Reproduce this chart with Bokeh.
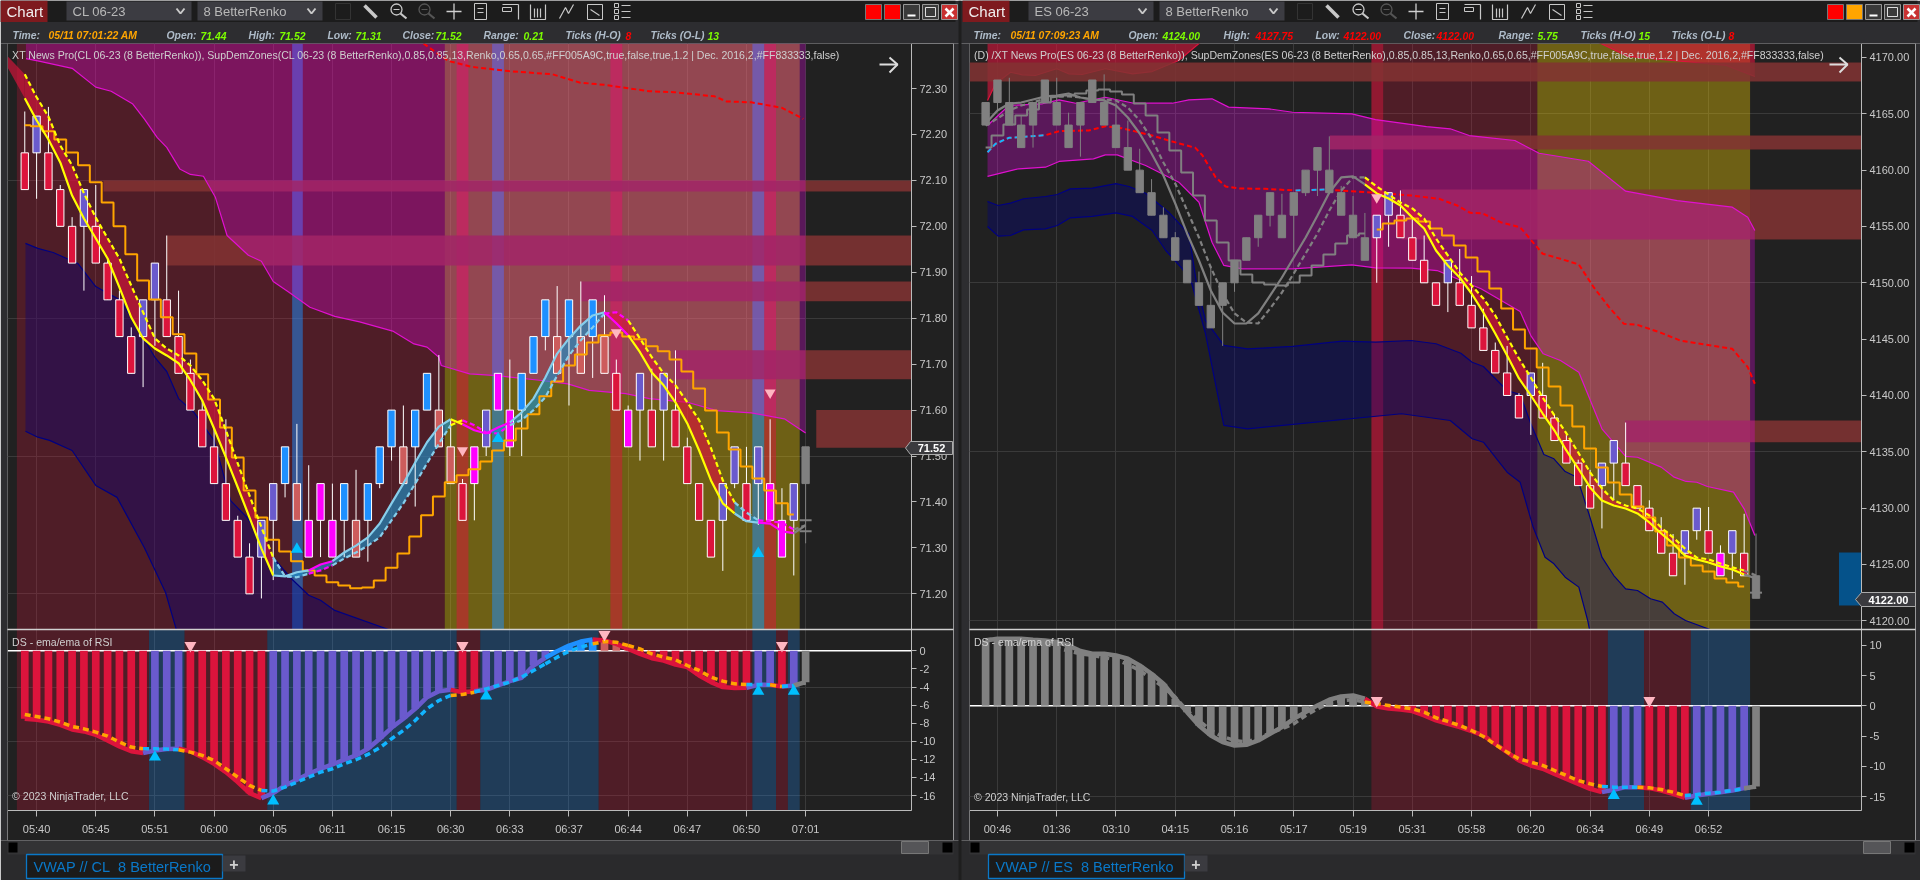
from bokeh.plotting import figure
from bokeh.models import Range1d, LinearAxis, FixedTicker, Grid, PrintfTickFormatter, Label
from bokeh.core.properties import value
from bokeh.embed import file_html
from bokeh.resources import INLINE

FONT = "Liberation Sans"
BG = "#212121"
COL = {"R": "#DC143C", "P": "#6A5ACD", "B": "#1E90FF", "S": "#CD5C5C", "M": "#FF00FF", "G": "#808080"}
DASHCOL = {"R": "#FFA500", "P": "#12B4FF", "B": "#12B4FF", "S": "#FFA500", "M": "#FFA500", "G": "#808080"}
Y, L, M, G, CR, BL = "#FFFF00", "#87CEEB", "#FF00FF", "#808080", "#DC143C", "#1E90C8"

# ---------------- CL 06-23 ----------------
cl_bar_top = [72.16,72.24,72.16,72.08,72.00,72.08,72.00,71.92,71.84,71.76,
              71.84,71.92,71.84,71.76,71.68,71.60,71.52,71.44,71.36,71.28,
              71.36,71.44,71.52,71.44,71.36,71.44,71.36,71.44,71.36,71.44,
              71.52,71.60,71.52,71.60,71.68,71.60,71.52,71.44,71.52,71.60,
              71.68,71.60,71.68,71.76,71.84,71.76,71.84,71.76,71.84,71.76,
              71.68,71.60,71.68,71.60,71.68,71.60,71.52,71.44,71.36,71.44,
              71.52,71.44,71.52,71.44,71.36,71.44,71.52]
cl_brick = 0.08
cl_bar_colors = "RPRRRPRRRR" "PPRRRRRRRR" "PPBSMMMBSB" "BBSBBSSRMP" "MMBBBSBSBS" "RMPRPRRRRP" "PRPMMPG"
cl_high = [72.25,72.24,72.26,72.09,72.02,72.08,72.09,71.93,71.86,71.78,
           71.84,71.92,71.98,71.86,71.71,71.62,71.56,71.58,71.37,71.31,
           71.36,71.44,71.52,71.57,71.48,71.44,71.44,71.44,71.47,71.44,
           71.52,71.60,71.61,71.60,71.68,71.72,71.58,71.45,71.52,71.60,
           71.68,71.71,71.68,71.76,71.84,71.87,71.84,71.88,71.84,71.85,
           71.71,71.61,71.68,71.69,71.68,71.73,71.54,71.44,71.36,71.44,
           71.52,71.52,71.52,71.58,71.43,71.44,71.52]
cl_low_wicks = {1:72.06,5:71.86,10:71.65,11:71.74,20:71.19,21:71.23,22:71.41,25:71.28,27:71.28,29:71.27,
                30:71.43,31:71.49,33:71.39,38:71.36,39:71.50,41:71.50,42:71.50,44:71.73,46:71.61,48:71.67,
                52:71.49,54:71.49,59:71.25,60:71.43,62:71.35,65:71.24,66:71.31}
cl_fast = [72.279,72.231,72.189,72.139,72.067,72.017,71.974,71.930,71.867,71.802,
           71.756,71.734,71.719,71.702,71.665,71.621,71.560,71.497,71.432,71.366,
           71.299,71.240,71.238,71.247,71.251,71.264,71.271,71.290,71.305,71.323,
           71.353,71.397,71.440,71.486,71.530,71.564,71.580,71.569,71.556,71.549,
           71.562,71.573,71.595,71.625,71.671,71.723,71.756,71.784,71.806,71.813,
           71.789,71.763,71.726,71.682,71.654,71.617,71.571,71.512,71.447,71.397,
           71.375,71.358,71.355,71.353,71.336,71.332,71.349]
cl_slow = [72.331,72.281,72.239,72.176,72.133,72.072,72.019,71.974,71.930,71.871,
           71.813,71.756,71.734,71.719,71.697,71.665,71.625,71.556,71.484,71.414,
           71.345,71.279,71.238,71.236,71.244,71.251,71.262,71.277,71.290,71.305,
           71.323,71.360,71.397,71.440,71.484,71.527,71.567,71.578,71.567,71.551,
           71.549,71.567,71.578,71.600,71.628,71.675,71.719,71.752,71.780,71.810,
           71.813,71.795,71.756,71.715,71.680,71.654,71.617,71.578,71.517,71.447,
           71.399,71.377,71.360,71.358,71.355,71.340,71.349]
cl_head_x, cl_head_fast, cl_head_slow = [-1.45, 0], [72.346, 72.279], [72.370, 72.331]
cl_segments = [(0,21,Y,CR),(21,24,L,BL),(24,26,M,BL),(26,36,L,BL),(36,37,Y,CR),(37,39,M,CR),(39,41,M,BL),
               (41,49,L,BL),(49,51,M,CR),(51,60,Y,CR),(60,62,L,BL),(62,65,M,CR),(65,66,G,None)]
cl_stair = [72.220,72.218,72.207,72.189,72.161,72.133,72.096,72.052,72.000,71.939,
            71.882,71.841,71.802,71.765,71.723,71.678,71.623,71.562,71.497,71.425,
            71.366,71.318,71.292,71.271,71.251,71.240,71.225,71.218,71.212,71.214,
            71.229,71.257,71.288,71.325,71.371,71.412,71.443,71.458,71.471,71.488,
            71.512,71.534,71.560,71.591,71.630,71.662,71.697,71.721,71.747,71.763,
            71.769,71.760,71.754,71.739,71.728,71.710,71.684,71.647,71.599,71.551,
            71.514,71.477,71.451,71.425,71.397,71.373]
cl_pink_i = [0.1,1.1,4.0,6.0,7.3,9.1,10.1,11.2,12,13.1,14,15.1,16.1,17.1,18.9,20,21,22.3,24.1,26.2,28.3,
             31.1,32.9,34,35,35.2,37.6,39.9,43.5,45.9,47.7,50.8,52.8,56,58.5,61.4,64.2,66]
cl_pink = [72.365,72.360,72.344,72.303,72.294,72.267,72.234,72.193,72.172,72.125,72.113,72.109,72.064,71.980,
           71.937,71.924,71.880,71.857,71.824,71.804,71.792,71.772,71.744,71.737,71.715,71.697,71.679,71.675,
           71.665,71.657,71.643,71.636,71.625,71.617,71.599,71.594,71.581,71.550]
cl_vwap_i = [33.7,35.8,37.8,40.9,44.6,46.9,49,52.8,54.9,58.3,59.3,61.4,64,65.8]
cl_vwap = [72.398,72.360,72.347,72.338,72.331,72.313,72.308,72.294,72.292,72.283,72.272,72.270,72.258,72.234]
cl_navy_up_i = [0.06,1.1,2.4,4.5,6,8.1,10,11,12,13,14.3,16,17.4,18.8,21,22.5,24,25,26.2,31]
cl_navy_up = [71.963,71.952,71.943,71.919,71.869,71.839,71.758,71.715,71.684,71.625,71.595,71.534,71.403,71.366,
              71.279,71.234,71.197,71.186,71.164,71.12]
cl_navy_lo_i = [0.06,1.1,2.1,4,6,7.8,10.1,11.9,12.8,13.3,31.5]
cl_navy_lo = [71.554,71.541,71.534,71.512,71.436,71.410,71.301,71.203,71.123,71.08,71.08]
cl_red_span, cl_olive_span = (-0.67, 35.5), (35.5, 65.5)
cl_blue_cols, cl_red_cols = [(22.6,23.5),(39.5,40.5),(61.5,62.5)], [(36.5,37.5),(49.5,50.5),(62.5,63.5)]
cl_zone_start = [6.65,12,47,54.9,66.9]
cl_zone_top = [72.10,71.98,71.88,71.73,71.60]
cl_zone_bot = [72.076,71.915,71.837,71.667,71.518]
cl_tri_dn = ([37,50,63],[71.512,71.769,71.638])
cl_tri_up = ([23,40,62],[71.297,71.538,71.288])
cl_ticks = [72.30,72.20,72.10,72.00,71.90,71.80,71.70,71.60,71.50,71.40,71.30,71.20]
cl_grid = [72.10,71.80,71.50,71.20]
cl_time_i = [1,6,11,16,21,26,31,36,41,46,51,56,61,66]
cl_time = ["05:40","05:45","05:51","06:00","06:05","06:11","06:15","06:30","06:33","06:37","06:44","06:47","06:50","07:01"]
cl_hist = [-7.51,-7.62,-7.81,-8.18,-8.69,-8.91,-9.28,-9.91,-10.57,-11.09,
           -11.31,-11.01,-10.86,-10.83,-11.09,-11.75,-12.49,-13.41,-14.51,-15.73,
           -16.28,-15.73,-14.88,-14.25,-13.59,-13.04,-12.56,-12.04,-11.56,-10.83,
           -9.72,-8.51,-7.51,-6.41,-5.12,-4.46,-4.31,-4.57,-4.46,-4.31,
           -3.83,-3.35,-2.98,-1.62,-0.77,-0.04,0.59,1.03,1.25,1.14,
           0.77,0.22,-0.33,-0.81,-1.07,-1.51,-1.80,-2.72,-3.46,-4.01,
           -4.12,-4.08,-3.76,-3.76,-3.94,-3.83,-3.46]
cl_sig = [-7.03,-7.26,-7.51,-7.88,-8.36,-8.62,-8.99,-9.43,-10.09,-10.64,
          -10.83,-10.83,-10.86,-10.94,-11.20,-11.56,-12.12,-13.04,-13.96,-14.88,
          -15.43,-15.50,-15.06,-14.51,-13.96,-13.41,-13.04,-12.49,-12.04,-11.45,
          -10.72,-9.72,-8.80,-7.70,-6.41,-5.49,-4.93,-4.82,-4.57,-4.20,
          -3.83,-3.46,-2.91,-2.17,-1.44,-0.70,-0.04,0.41,0.77,1.03,
          0.96,0.59,0.22,-0.33,-0.70,-0.99,-1.62,-2.17,-2.91,-3.35,
          -3.65,-3.72,-3.72,-3.76,-3.94,-3.83,-3.57]
cl_hist_colors = "R"*11 + "P"*3 + "R"*7 + "P"*16 + "R"*2 + "P"*6 + "B"*4 + "S"*3 + "R"*10 + "P"*2 + "R" + "P" + "G"
cl_ind_red = [(-0.67,10.5),(13.5,20.5),(36.5,38.5),(48.5,61.5),(63.5,64.5)]
cl_ind_blue = [(10.5,13.5),(20.5,36.5),(38.5,48.5),(61.5,63.5),(64.5,65.5)]
cl_ind_dn = ([14,37,49,64],[0.59,0.59,1.8,0.59])
cl_ind_up = ([11,21,39,62,65],[-11.75,-16.6,-5.0,-4.46,-4.46])
cl_ind_ticks = [0,-2,-4,-6,-8,-10,-12,-14,-16]
cl_ind_grid = [-4,-10,-16]

# ---------------- ES 06-23 ----------------
es_bar_top = [4166,4168,4166,4164,4166,4168,4166,4164,4166,4168,
              4166,4164,4162,4160,4158,4156,4154,4152,4150,4148,
              4150,4152,4154,4156,4158,4156,4158,4160,4162,4160,
              4158,4156,4154,4156,4158,4156,4154,4152,4150,4152,
              4150,4148,4146,4144,4142,4140,4142,4140,4138,4136,
              4134,4132,4134,4136,4134,4132,4130,4128,4126,4128,
              4130,4128,4126,4128,4126,4124]
es_brick = 2
es_bar_colors = "G"*33 + "PP" + "RRRR" + "P" + "RRRRRR" + "P" + "RRRRR" + "PP" + "RRRRR" + "PP" + "R" + "M" + "P" + "R" + "G"
es_high = [4166,4168,4168.2,4164.9,4166,4168,4168.2,4165.1,4166,4168,
           4168.5,4166,4164.4,4161.9,4159.2,4156.7,4154.5,4152,4151,4151.5,
           4150,4152,4154,4156,4158,4157.9,4158,4160,4162,4163,
           4158.6,4157.7,4156.2,4156,4158,4158.2,4155.7,4154.2,4150,4152,
           4153,4150.6,4147.7,4144.7,4144.4,4140.2,4142,4142.9,4138.3,4136.5,
           4134.3,4133.4,4134,4136,4137.6,4132,4130.7,4129.2,4127.7,4128,
           4130,4130.1,4126.7,4128,4129.5,4127.75]
es_low_wicks = {1:4165.2,4:4162,8:4161.2,20:4144.4,21:4149.2,23:4153.2,24:4155,26:4152.7,27:4157.7,28:4157.7,
                33:4150,34:4153.2,39:4147.4,46:4136.5,52:4128.2,53:4130.7,59:4123.2,60:4127.2,63:4123.7}
es_fast = [4164.14,4165.29,4165.91,4166.00,4166.27,4166.54,4166.62,4166.80,4166.45,4166.27,
           4166.18,4165.74,4164.67,4163.25,4161.48,4159.52,4157.04,4154.38,4151.98,4149.32,
           4147.37,4146.39,4146.39,4147.28,4148.87,4150.47,4152.25,4154.02,4155.97,4158.02,
           4159.35,4159.44,4158.73,4157.93,4157.48,4156.86,4155.80,4154.82,4152.87,4151.54,
           4150.47,4149.05,4147.37,4145.50,4143.55,4141.51,4140.00,4138.40,4136.89,4135.12,
           4133.52,4131.84,4130.68,4130.24,4129.97,4129.53,4128.73,4127.75,4126.87,4125.80,
           4125.45,4125.18,4124.83,4124.56,4124.12,4123.76]
es_slow = [4163.96,4164.58,4165.29,4165.74,4166.00,4166.36,4166.54,4166.54,4166.45,4166.27,
           4166.27,4166.18,4165.56,4164.41,4162.81,4160.68,4158.81,4156.42,4154.02,4151.36,
           4149.05,4147.28,4146.48,4146.39,4147.72,4149.14,4150.83,4152.60,4154.38,4156.42,
           4158.19,4159.35,4159.35,4158.55,4157.84,4157.13,4156.60,4155.71,4153.93,4152.43,
           4150.92,4149.76,4148.61,4147.10,4145.15,4143.28,4141.60,4139.82,4138.22,4136.63,
           4134.94,4133.17,4131.75,4130.68,4130.24,4129.97,4129.35,4128.28,4127.40,4126.42,
           4125.62,4125.45,4125.09,4124.74,4124.47,4124.03]
es_segments = [(0,32,G,None),(32,64,Y,CR),(64,65,G,None)]
es_stair = [4162.01,4163.07,4164.05,4164.85,4165.38,4166.00,4166.54,4166.62,4166.80,4167.07,
            4167.16,4166.98,4166.71,4165.91,4164.85,4163.34,4161.74,4159.79,4157.75,4155.53,
            4153.58,4151.98,4150.74,4150.03,4149.85,4149.76,4150.03,4150.65,4151.54,4152.51,
            4153.49,4154.20,4154.38,4154.73,4155.26,4155.53,4155.71,4155.44,4154.82,4154.20,
            4153.31,4152.25,4151.00,4149.50,4147.72,4145.86,4144.17,4142.48,4140.80,4139.11,
            4137.25,4135.30,4133.61,4132.28,4131.22,4130.15,4129.17,4127.93,4126.69,4125.62,
            4124.91,4124.38,4123.76,4123.41,4123.05]
es_up_i = [0.16,1.96,4.8,6.2,7.6,10.1,12.5,15.75,17.15,19.1,20.5,23.9,25.9,30.9,32.9,37.2,39.2,40.8,44.65,46.7,50.85,54,58.35,63,64.3,64.9]
es_up = [4163.96,4165.74,4165.89,4166.24,4165.94,4166.47,4165.94,4165.94,4166.24,4166.33,4165.59,4165.44,4165.14,4165,4164.49,
         4163.87,4163.67,4163.07,4162.63,4161.5,4160.79,4158.13,4157.3,4156.71,4155.82,4154.64]
es_pink_i = [0.16,2.8,5.05,6.2,9.1,10.1,11.1,13.5,16.3,18,19.1,20.1,21.65,25.9,30.9,32.9,35.9,38.1,41.8,45.1,46,47.05,48.5,50.05,
             52,54,55,57,58.1,59.1,60,60.9,63.1,64,64.9]
es_pink = [4159.44,4160.12,4160.26,4160.77,4161.0,4161.36,4161.36,4160.41,4158.93,4157.15,4153.6,4151.54,4151.24,4151.24,4151.6,
           4151.33,4151.3,4151.09,4149.47,4147.45,4145.32,4143.7,4143.1,4142.07,4137.04,4134.6,4134.52,4133.64,4132.75,4132.37,
           4132.3,4131.92,4131.42,4129.94,4127.57]
es_top_i = [0.16,0.84,2.1,3.1,4.2,6.0,7,8.15,10.1,12.4,14.05,16.3,18.3,51.4,54.2,62.5,64.9]
es_top = [4166.18,4167.66,4168.69,4168.46,4168.4,4169.0,4168.55,4168.49,4169,4168.55,4168.75,4169.73,4171.5,4171.5,4170.09,4169.29,4168.31]
es_vwap_i = [0.16,0.84,1.96,2.8,5.05,6.2,8.7,10.1,11.5,14.05,15.75,17.7,18.3,19.4,20.25,21.4,23.6,26.15,28.7,32.9,35.9,38.25,39.8,
             40.9,41.9,43.45,45.1,47,48.5,50.05,51.3,52.6,53.85,55,57,58.6,63,64.3,64.9]
es_vwap = [4161.59,4162.34,4162.87,4162.92,4163.1,4163.46,4163.52,4163.9,4163.72,4163.07,4162.54,4161.98,4161.3,4159.37,4158.55,
           4158.37,4158.34,4158.19,4158.28,4157.99,4157.75,4157.46,4156.86,4156.21,4156.18,4155.38,4154.93,4152.58,4152.13,4151.63,
           4149.61,4147.84,4146.36,4146.27,4145.56,4144.88,4144.14,4142.51,4141.04]
es_vwap_blue = [(0.16,5.05),(26.15,28.7)]
es_navy_up_i = [0.16,1.06,2.1,3.2,5.05,6.05,7.15,9,11,12.1,13.5,15.45,17.15,17.8,18.55,20.1,22.1,25.9,30.1,32.9,35.9,38,40.1,41.05,
                42,44,45.1,46,47.1,47.95,48.9,49.9,50.9,52,53,54,55,56.1,57.1,58.1,59.05,61.7]
es_navy_up = [4157.22,4156.86,4157.07,4157.46,4157.66,4157.84,4158.34,4158.4,4158.81,4158.55,4157.95,4156.27,4154.35,4149.94,4146.66,
              4144.44,4144.14,4144.35,4144.82,4144.73,4144.88,4144.59,4143.75,4142.95,4142.57,4140.44,4140.09,4137.49,4134.76,4134.38,
              4133.25,4132.75,4129.5,4125.65,4124.02,4122.84,4122.69,4121.96,4121.66,4120.63,4120.03,4119.0]
es_navy_lo_i = [0.16,1.06,2.1,3.2,5.05,6.05,7.15,9,11,12.4,14.05,15.2,16.6,17.4,18.55,20.1,22.1,35.1,39.2,41.05,42,44,45.1,46.2,47.2,47.95,48.9,50.05,50.8,51.05]
es_navy_lo = [4155,4154.14,4154.2,4154.7,4154.79,4155.09,4155.77,4155.89,4156.21,4155.89,4154.64,4152.87,4151.24,4149.91,4145.5,
              4137.34,4137.04,4138.38,4137.78,4136.16,4135.85,4133.19,4132.3,4128.3,4125.65,4125.06,4123.87,4122.99,4120.03,4118.7]
es_red_span, es_olive_span = (33.55, 46.55), (46.55, 64.5)
es_blue_cols, es_red_cols = [], [(32.55,33.55)]
es_zone_start = [-1.36,29.04,35.1,53.95]
es_zone_top = [4169.55,4163.07,4158.28,4137.78]
es_zone_bot = [4167.87,4161.83,4153.84,4135.85]
es_demand = ([72],[4126.07],[4121.36])
es_tri_dn = ([33],[4157.57])
es_ticks = [4170,4165,4160,4155,4150,4145,4140,4135,4130,4125,4120]
es_grid = [4165,4150,4135,4120]
es_time_i = [1,6,11,16,21,26,31,36,41,46,51,56,61]
es_time = ["00:46","01:36","03:10","04:15","05:16","05:17","05:19","05:31","05:58","06:20","06:34","06:49","06:52"]
es_hist = [10.80,11.07,11.07,11.07,10.91,10.80,10.52,9.97,9.04,8.60,
           8.60,8.32,7.77,6.67,5.29,3.64,1.16,-1.05,-3.25,-4.90,
           -6.01,-6.56,-6.45,-5.73,-4.63,-3.53,-2.15,-1.05,0.06,0.99,
           1.54,1.71,1.16,-0.11,-0.44,-0.61,-0.88,-1.60,-2.42,-2.98,
           -3.53,-4.19,-4.90,-6.28,-7.66,-9.04,-9.86,-10.41,-11.24,-12.07,
           -12.89,-13.72,-14.27,-13.88,-13.44,-13.44,-13.61,-13.99,-14.55,-15.21,
           -14.82,-14.55,-14.27,-13.99,-13.61,-13.33]
es_sig = [10.91,11.07,11.07,10.96,10.80,10.25,9.59,9.04,8.60,8.32,
          7.93,7.60,6.83,5.84,4.46,3.09,1.43,-0.77,-2.42,-4.08,
          -5.07,-5.73,-6.01,-5.34,-4.52,-3.80,-2.98,-1.60,-0.50,0.50,
          0.88,0.99,0.61,0.33,0.06,-0.22,-0.50,-1.05,-1.98,-2.59,
          -3.25,-4.08,-5.07,-6.39,-7.66,-8.76,-9.31,-9.86,-10.69,-11.52,
          -12.34,-12.89,-13.33,-13.44,-13.44,-13.44,-13.55,-13.83,-14.27,-14.82,
          -14.66,-14.44,-14.27,-13.99,-13.72,-13.44]
es_hist_colors = "G"*33 + "R"*20 + "P"*3 + "R"*4 + "P"*5 + "G"
es_ind_red = [(32.55,52.5),(55.55,59.5)]
es_ind_blue = [(52.5,55.55),(59.5,64.5)]
es_ind_dn = ([33,56],[0.88,0.88])
es_ind_up = ([53,60],[-14.82,-15.76])
es_ind_ticks = [10,5,0,-5,-10,-15]
es_ind_grid = [-15]

LEGEND_CL = "XT News Pro(CL 06-23 (8 BetterRenko)), SupDemZones(CL 06-23 (8 BetterRenko),0.85,0.85,13,Renko,0.65,0.65,#FF005A9C,true,false,true,1.2 | Dec. 2016,2,#FF833333,false)"
LEGEND_ES = "(D) /XT News Pro(ES 06-23 (8 BetterRenko)), SupDemZones(ES 06-23 (8 BetterRenko),0.85,0.85,13,Renko,0.65,0.65,#FF005A9C,true,false,true,1.2 | Dec. 2016,2,#FF833333,false)"


def base(left, top, w, h, right, bottom, xr, yr, yticks, ygrid, xticks, fmt):
    p = figure(width=w, height=h, x_range=Range1d(*xr), y_range=Range1d(*yr), x_axis_location=None, y_axis_location=None,
               output_backend="svg", toolbar_location=None, min_border_left=0, min_border_top=0,
               min_border_right=right, min_border_bottom=bottom, background_fill_color=BG, border_fill_color=BG,
               outline_line_color=None,
               styles={"position": "fixed", "left": f"{left}px", "top": f"{top}px"})
    p.grid.visible = False
    ax = LinearAxis(ticker=FixedTicker(ticks=yticks), formatter=PrintfTickFormatter(format=fmt),
                    major_label_text_font=FONT, major_label_text_font_size="11px", major_label_text_color="#C8C8C8",
                    axis_line_color="#BBBBBB", major_tick_line_color="#BBBBBB", major_tick_in=0, major_tick_out=5,
                    minor_tick_line_color=None, major_label_standoff=3)
    p.add_layout(ax, "right")
    p.add_layout(Grid(dimension=1, ticker=FixedTicker(ticks=ygrid), grid_line_color="#3A3A3A"))
    p.add_layout(Grid(dimension=0, ticker=FixedTicker(ticks=xticks), grid_line_color="#3A3A3A"))
    return p


def spans(p, items, color, alpha, lo, hi):
    if items:
        p.quad(left=[a for a, _ in items], right=[b for _, b in items], bottom=lo, top=hi,
               fill_color=color, fill_alpha=alpha, line_color=None)


def band(p, xu, yu, xl, yl, color, alpha):
    p.patch(list(xu) + list(xl)[::-1], list(yu) + list(yl)[::-1], fill_color=color, fill_alpha=alpha, line_color=None)


def text(p, x, y, s, size="10.55px", color="#CFCFCF"):
    p.add_layout(Label(x=x, y=y, text=s, text_font=FONT, text_font_size=size, text_color=color,
                       text_baseline="middle", text_align="left"))


def candles(p, tops, brick, colors, high, low_wicks):
    xs = list(range(len(tops)))
    bots = [t - brick for t in tops]
    lows = [low_wicks.get(i, bots[i]) for i in xs]
    p.segment(xs, high, xs, lows, line_color=["#808080" if c == "G" else "#FFFFFF" for c in colors], line_width=1)
    p.vbar(x=xs, width=0.62, top=tops, bottom=bots, fill_color=[COL[c] for c in colors],
           line_color=["#808080" if c == "G" else "#FFFFFF" for c in colors], line_width=1)


def ribbon_lines(p, fast, slow, segments):
    xs = list(range(len(fast)))
    for s, e, _, fill in segments:
        if fill:
            p.varea(xs[s:e + 1], fast[s:e + 1], slow[s:e + 1], fill_color=fill, fill_alpha=0.65)
    return xs


def draw_lines(p, fast, slow, segments):
    xs = list(range(len(fast)))
    for s, e, col, _ in segments:
        p.line(xs[s:e + 1], slow[s:e + 1], line_color=col, line_width=2.2, line_dash="5 3")
        p.line(xs[s:e + 1], fast[s:e + 1], line_color=col, line_width=2.2)


def indicator(left, w, right, xr, yr, xticks, labels, hist, sig, colors, red, blue, dn, up, ticks, grid, lab_x, ds_y, cr_y):
    p = base(left, 629, w, 211, right, 30, xr, yr, ticks, grid, xticks, "%d")
    xa = LinearAxis(ticker=FixedTicker(ticks=xticks), major_label_overrides=dict(zip(xticks, labels)),
                    major_label_text_font=FONT, major_label_text_font_size="11px", major_label_text_color="#C8C8C8",
                    axis_line_color="#BBBBBB", major_tick_line_color="#BBBBBB", major_tick_in=0, major_tick_out=6,
                    minor_tick_line_color=None, major_label_standoff=6)
    p.add_layout(xa, "below")
    spans(p, red, "#DC143C", 0.25, yr[0], yr[1])
    spans(p, blue, "#1E90FF", 0.25, yr[0], yr[1])
    p.line(list(xr), [0, 0], line_color="#FFFFFF", line_width=1.5)
    xs = list(range(len(hist)))
    p.vbar(x=xs, width=0.65, top=[max(v, 0) for v in hist], bottom=[min(v, 0) for v in hist],
           fill_color=[COL[c] for c in colors], line_color=None)
    s = 0
    runs = []
    for i in range(1, len(colors) + 1):
        if i == len(colors) or colors[i] != colors[s]:
            runs.append((s, i - 1, colors[s]))
            s = i
    for a, b, c in runs:
        a0 = max(a - 1, 0)
        p.line(xs[a0:b + 1], hist[a0:b + 1], line_color=COL["R"] if c == "S" else COL[c], line_width=4.5)
    for a, b, c in runs:
        a0 = max(a - 1, 0)
        p.line(xs[a0:b + 1], sig[a0:b + 1], line_color=DASHCOL[c], line_width=3.5, line_dash="6 4")
    p.scatter(dn[0], dn[1], marker="inverted_triangle", size=12, fill_color="#FFB6C1", line_color=None)
    p.scatter(up[0], up[1], marker="triangle", size=12, fill_color="#00BFFF", line_color=None)
    text(p, lab_x, ds_y, "DS - ema/ema of RSI")
    text(p, lab_x, cr_y, "\u00a9 2023 NinjaTrader, LLC")
    return p


# ------- CL price panel -------
cl_xr, cl_yr = (-1.46, 74.95), (71.1224, 72.398)
p1 = base(7, 43, 946, 586, 42, 0, cl_xr, cl_yr, cl_ticks, cl_grid, cl_time_i, "%.2f")
spans(p1, [cl_red_span], "#DC143C", 0.25, *cl_yr)
spans(p1, [cl_olive_span], "#FFD700", 0.35, *cl_yr)
spans(p1, cl_red_cols, "#DC143C", 0.5, *cl_yr)
spans(p1, cl_blue_cols, "#1E90FF", 0.5, *cl_yr)
p1.quad(left=cl_zone_start, right=cl_xr[1], top=cl_zone_top, bottom=cl_zone_bot, fill_color="#833333", fill_alpha=0.85, line_color=None)
band(p1, cl_pink_i, cl_pink, [cl_pink_i[0], cl_pink_i[-1]], [72.6, 72.6], "#FF00FF", 0.26)
band(p1, cl_navy_up_i, cl_navy_up, cl_navy_lo_i, cl_navy_lo, "#000080", 0.35)
p1.line(cl_pink_i, cl_pink, line_color="#E010D0", line_width=1.2)
p1.line(cl_navy_up_i, cl_navy_up, line_color="#000080", line_width=1.2)
p1.line(cl_navy_lo_i, cl_navy_lo, line_color="#000080", line_width=1.2)
p1.line(cl_vwap_i, cl_vwap, line_color="#FF0000", line_width=2, line_dash="5 3")
p1.varea(cl_head_x, cl_head_fast, cl_head_slow, fill_color=CR, fill_alpha=0.65)
ribbon_lines(p1, cl_fast, cl_slow, cl_segments)
candles(p1, cl_bar_top, cl_brick, cl_bar_colors, cl_high, cl_low_wicks)
p1.step(list(range(len(cl_stair))), cl_stair, mode="center", line_color="#FFA500", line_width=2)
draw_lines(p1, cl_fast, cl_slow, cl_segments)
p1.scatter(cl_tri_dn[0], cl_tri_dn[1], marker="inverted_triangle", size=11, fill_color="#FFB6C1", line_color=None)
p1.scatter(cl_tri_up[0], cl_tri_up[1], marker="triangle", size=12, fill_color="#00BFFF", line_color=None)
p1.scatter([66, 66], [71.36, 71.336], marker="dash", size=12, line_color="#808080", line_width=2)
text(p1, -1.07, 72.374, LEGEND_CL)

p2 = indicator(7, 946, 42, cl_xr, (-17.65, 2.36), cl_time_i, cl_time, cl_hist, cl_sig, cl_hist_colors, cl_ind_red, cl_ind_blue,
               cl_ind_dn, cl_ind_up, cl_ind_ticks, cl_ind_grid, -1.07, 1.03, -16.1)

# ------- ES price panel -------
es_xr, es_yr = (-1.36, 73.9), (4119.23, 4171.24)
p3 = base(969, 43, 946, 586, 54, 0, es_xr, es_yr, es_ticks, es_grid, es_time_i, "%.2f")
spans(p3, [es_red_span], "#DC143C", 0.25, *es_yr)
spans(p3, [es_olive_span], "#FFD700", 0.35, *es_yr)
spans(p3, es_red_cols, "#DC143C", 0.6, *es_yr)
band(p3, es_top_i, es_top, [es_top_i[0], es_top_i[-1]], [4175, 4175], "#DC143C", 0.6)
p3.line(es_top_i, es_top, line_color="#DC143C", line_width=1.2)
p3.quad(left=es_zone_start, right=es_xr[1], top=es_zone_top, bottom=es_zone_bot, fill_color="#833333", fill_alpha=0.85, line_color=None)
p3.quad(left=es_demand[0], right=es_xr[1], top=es_demand[1], bottom=es_demand[2], fill_color="#005A9C", fill_alpha=0.85, line_color=None)
band(p3, es_up_i, es_up, es_pink_i, es_pink, "#FF00FF", 0.26)
band(p3, es_navy_up_i, es_navy_up, es_navy_lo_i, es_navy_lo, "#000080", 0.35)
p3.line(es_up_i, es_up, line_color="#E010D0", line_width=1.2)
p3.line(es_pink_i, es_pink, line_color="#E010D0", line_width=1.2)
p3.line(es_navy_up_i, es_navy_up, line_color="#000080", line_width=1.2)
p3.line(es_navy_lo_i, es_navy_lo, line_color="#000080", line_width=1.2)
p3.line(es_vwap_i, es_vwap, line_color="#FF0000", line_width=2, line_dash="5 3")
for a, b in es_vwap_blue:
    idx = [k for k, v in enumerate(es_vwap_i) if a <= v <= b]
    p3.line([es_vwap_i[k] for k in idx], [es_vwap[k] for k in idx], line_color="#12B4FF", line_width=2, line_dash="5 3")
ribbon_lines(p3, es_fast, es_slow, es_segments)
candles(p3, es_bar_top, es_brick, es_bar_colors, es_high, es_low_wicks)
p3.step(list(range(33)), es_stair[:33], mode="center", line_color="#808080", line_width=2)
p3.step(list(range(33, len(es_stair))), es_stair[33:], mode="center", line_color="#FFA500", line_width=2)
draw_lines(p3, es_fast, es_slow, es_segments)
p3.scatter(es_tri_dn[0], es_tri_dn[1], marker="inverted_triangle", size=11, fill_color="#FFB6C1", line_color=None)
p3.scatter([65], [4122.5], marker="dash", size=12, line_color="#808080", line_width=2)
text(p3, -0.98, 4170.26, LEGEND_ES)

p4 = indicator(969, 946, 54, es_xr, (-17.3, 12.6), es_time_i, es_time, es_hist, es_sig, es_hist_colors, es_ind_red, es_ind_blue,
               es_ind_dn, es_ind_up, es_ind_ticks, es_ind_grid, -0.98, 10.6, -15)

# ------- window chrome on top -------
c = figure(width=1920, height=880, x_range=Range1d(0, 1920), y_range=Range1d(880, 0), x_axis_location=None, y_axis_location=None,
           output_backend="svg", toolbar_location=None, min_border=0, background_fill_color=None, border_fill_color=None,
           outline_line_color=None, styles={"position": "fixed", "left": "0px", "top": "0px"})
c.grid.visible = False


def box(l, r, t, b, fill, line=None, lw=1):
    c.quad(left=[l], right=[r], top=[t], bottom=[b], fill_color=fill, line_color=line, line_width=lw)


def seg(pts, col="#C8C8C8", w=1.2):
    c.line([a for a, _ in pts], [b for _, b in pts], line_color=col, line_width=w)


def txt(x, y, s, size="11px", col="#CFCFCF", style="normal", align="left"):
    c.text([x], [y], text=[s], text_font=value(FONT), text_font_size=size, text_color=col, text_font_style=style,
           text_baseline="middle", text_align=align)


box(0, 1920, 0, 43, "#2D2D30")
box(0, 7, 43, 840, "#2D2D30")
box(953, 969, 43, 840, "#2D2D30")
box(1915, 1920, 43, 840, "#2D2D30")
box(0, 1920, 840, 880, "#2A2A2C")
box(958, 961, 0, 880, "#1E1E1E")

for off, sym, tab, tabw in [(0, "CL 06-23", "VWAP // CL\u00a0 8 BetterRenko", 0), (962, "ES 06-23", "VWAP // ES\u00a0 8 BetterRenko", 1)]:
    box(off, off + 955, 0, 21.5, "#1C1C1C")
    box(off, off + 47, 0, 21.5, "#7E1A1E")
    txt(off + 6, 11, "Chart", "15px", "#F0F0F0")
    box(off + 66, off + 191, 1, 20, "#3C3C42")
    box(off + 197, off + 322, 1, 20, "#3C3C42")
    txt(off + 72, 10.5, sym, "13px", "#B8B8B8")
    txt(off + 203, 10.5, "8 BetterRenko", "13px", "#B8B8B8")
    for bx in (off + 176, off + 307):
        seg([(bx, 8), (bx + 4, 13), (bx + 8, 8)], "#C8C8C8", 2)
    box(off + 335, off + 350, 3, 19, "#1C1C1C", "#333333")
    seg([(off + 364, 5), (off + 376, 17)], "#C8C8C8", 3.5)
    for mx, mc in ((off + 396, "#C8C8C8"), (off + 424, "#555555")):
        c.scatter([mx], [9], marker="circle", size=11, fill_color=None, line_color=mc, line_width=1.3)
        seg([(mx + 4, 13), (mx + 10, 18)], mc, 2.2)
        seg([(mx - 3, 9), (mx + 3, 9)], mc, 1)
    seg([(off + 446, 11), (off + 461, 11)], "#D0D0D0", 1.3)
    seg([(off + 453.5, 3), (off + 453.5, 19)], "#D0D0D0", 1.3)
    box(off + 474, off + 486, 3, 19, None, "#C8C8C8")
    seg([(off + 477, 8), (off + 483, 8)])
    seg([(off + 477, 12), (off + 483, 12)])
    seg([(off + 502, 4), (off + 518, 4)])
    seg([(off + 518, 4), (off + 518, 19)])
    box(off + 502, off + 511, 7, 11, None, "#C8C8C8")
    for bx in (off + 534, off + 537, off + 540):
        seg([(bx, 17), (bx, 8)])
    seg([(off + 530, 4), (off + 530, 19), (off + 545, 19), (off + 545, 4)])
    seg([(off + 559, 18), (off + 565, 7), (off + 568, 13), (off + 573, 4)])
    box(off + 587, off + 602, 4, 19, None, "#C8C8C8")
    seg([(off + 590, 9), (off + 599, 15)])
    for ly in (5, 11, 17):
        box(off + 614, off + 618, ly - 2, ly + 2, None, "#C8C8C8")
        seg([(off + 621, ly), (off + 630, ly)])
    # window buttons
    box(off + 865, off + 881, 4, 19, "#FF0000", "#777777")
    box(off + 884, off + 900, 4, 19, "#FFA500" if tabw else "#FF0000", "#777777")
    box(off + 903, off + 919, 4, 19, "#3A3A3A", "#999999")
    seg([(off + 907, 15), (off + 915, 15)], "#FFFFFF", 2)
    box(off + 922, off + 938, 4, 19, "#3A3A3A", "#999999")
    box(off + 925, off + 935, 7, 16, None, "#DDDDDD")
    box(off + 941, off + 957, 4, 19, "#C83232", "#999999")
    seg([(off + 945, 8), (off + 953, 16)], "#FFFFFF", 2.5)
    seg([(off + 953, 8), (off + 945, 16)], "#FFFFFF", 2.5)
    # scroll bar and tab
    box(off + 7, off + 953, 840, 854, "#333335")
    box(off + 8, off + 17, 842, 852, "#000000")
    box(off + 942, off + 952, 842, 852, "#000000")
    box(off + 901, off + 928, 841, 853, "#555558", "#777777")
    box(off + 26, off + 222, 854, 878, "#1B1B1B", "#0A78C8", 1.3)
    box(off + 222, off + 245, 855, 871, "#3B3B40")
    txt(off + 233.5, 863, "+", "16px", "#D0D0D0", "bold", "center")
    txt(off + 33, 866, tab, "14.5px", "#0A78C8")

# price panel separators
seg([(7, 629), (953, 629)], "#D0D0D0", 1.4)
seg([(969, 629), (1915, 629)], "#D0D0D0", 1.4)

# status rows
GREEN, RED, ORANGE, LAB = "#7CFC00", "#FF0000", "#FFA500", "#AEBBC8"
cl_status = [(12, "Time:", LAB), (48, "05/11 07:01:22 AM", ORANGE), (166, "Open:", LAB), (200, "71.44", GREEN),
             (248, "High:", LAB), (279, "71.52", GREEN), (327, "Low:", LAB), (355, "71.31", GREEN),
             (402, "Close:", LAB), (435, "71.52", GREEN), (483, "Range:", LAB), (523, "0.21", GREEN),
             (565, "Ticks (H-O)", LAB), (625, "8", RED), (650, "Ticks (O-L)", LAB), (707, "13", GREEN)]
es_status = [(973, "Time:", LAB), (1010, "05/11 07:09:23 AM", ORANGE), (1128, "Open:", LAB), (1162, "4124.00", GREEN),
             (1223, "High:", LAB), (1255, "4127.75", RED), (1315, "Low:", LAB), (1343, "4122.00", RED),
             (1403, "Close:", LAB), (1436, "4122.00", RED), (1498, "Range:", LAB), (1537, "5.75", GREEN),
             (1580, "Ticks (H-O)", LAB), (1638, "15", GREEN), (1671, "Ticks (O-L)", LAB), (1728, "8", RED)]
for x, s, col in cl_status + es_status:
    txt(x, 35, s, "10.4px", col, "bold italic")

# arrows
for ax_ in (888, 1838):
    seg([(ax_ - 9, 64), (ax_ + 9, 64)], "#DDDDDD", 2)
    seg([(ax_ + 1, 57), (ax_ + 9, 64), (ax_ + 1, 72)], "#DDDDDD", 2)

# last price markers
c.patch([905, 910, 952, 952, 910], [447.5, 441, 441, 454, 454], fill_color="#3A3A3E", line_color="#AAAAAA")
txt(931, 447.5, "71.52", "11px", "#FFFFFF", "bold", "center")
c.patch([1855, 1861, 1915, 1915, 1861], [599, 592, 592, 606, 606], fill_color="#3A3A3E", line_color="#AAAAAA")
txt(1888, 599, "4122.00", "11px", "#FFFFFF", "bold", "center")

roots = [p1, p2, p3, p4, c]
open("out.html", "w").write(file_html(roots, INLINE))
